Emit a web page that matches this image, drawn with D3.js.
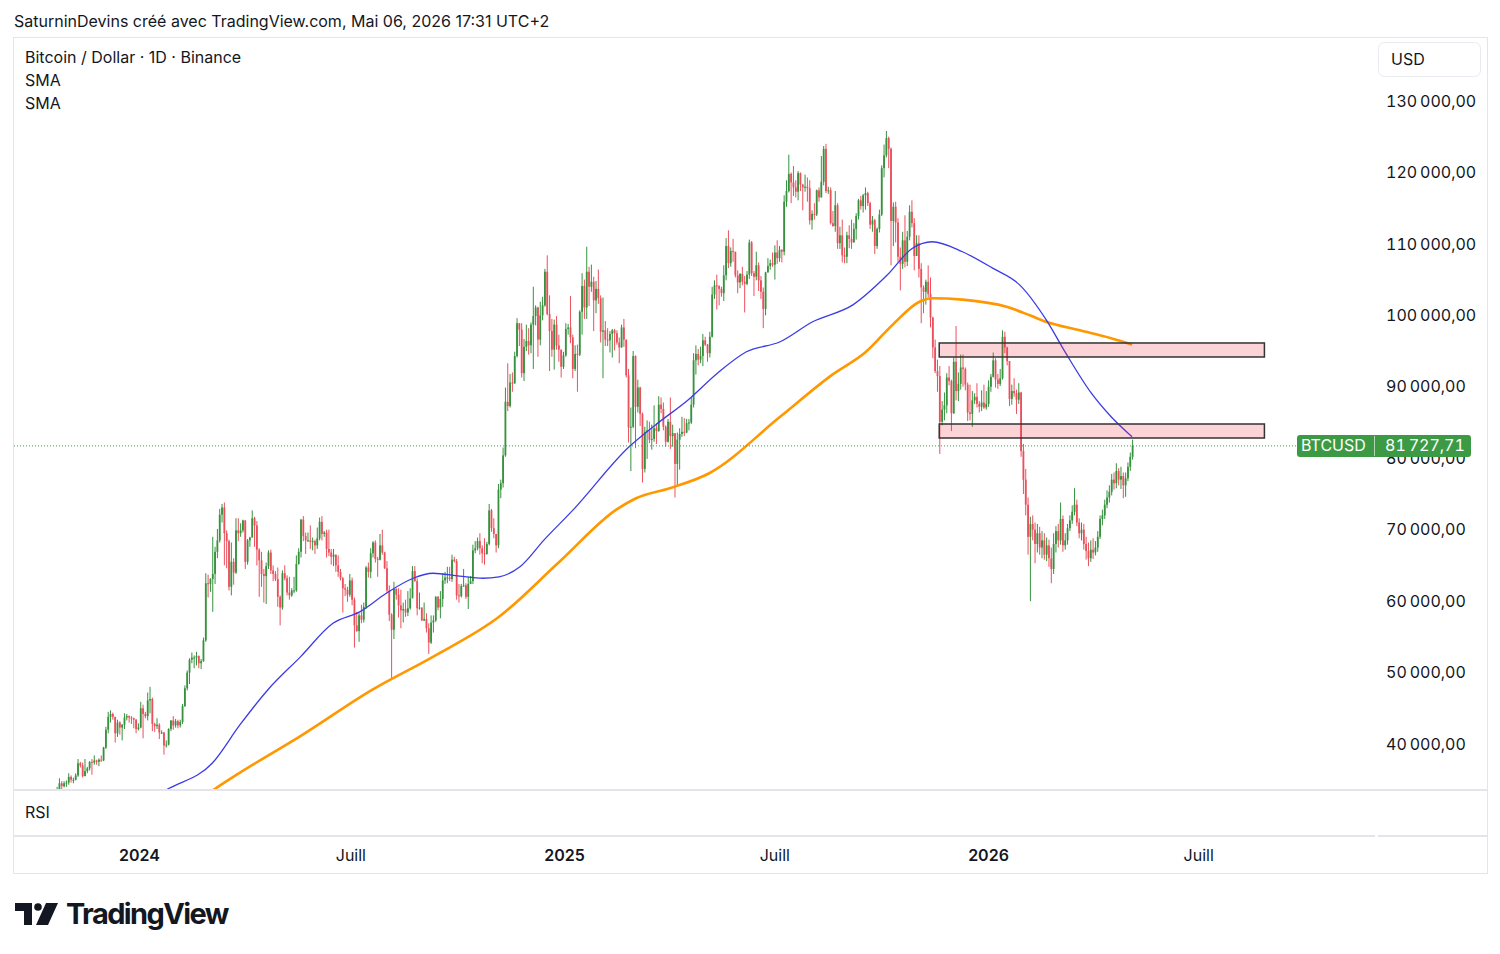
<!DOCTYPE html>
<html>
<head>
<meta charset="utf-8">
<script src="https://cdn.jsdelivr.net/npm/d3@7"></script>
<style>
  html, body { margin: 0; padding: 0; background: #fff; }
  svg { display: block; font-family: Inter, "Noto Sans", sans-serif; }
  .num { font-variant-numeric: tabular-nums; letter-spacing: 0.3px; }
</style>
</head>
<body>
<svg id="chart" width="1500" height="954"></svg>
<script>
// BTC/USD daily chart, grouped here as 2-day candles (prices in thousands of USD)
const startDate = "2023-10-22";
const stepDays = 2;
const firstOpen = 30.2;

const closes = [
  33.0, 34.5, 34.1, 34.5, 34.6, 35.4, 35.0, 35.0, 35.6, 37.3,   // 2023-10-22
  37.0, 35.5, 36.2, 36.6, 37.5, 37.4, 37.7, 37.5, 37.8, 37.7,   // 11-11
  39.5, 42.0, 43.8, 44.2, 43.8, 41.5, 43.0, 42.3, 42.7, 43.7,   // 12-01
  43.9, 43.7, 43.6, 43.4, 42.1, 42.3, 45.0, 44.2, 43.9, 46.1,   // 12-21
  46.3, 42.8, 42.5, 42.7, 41.6, 41.6, 39.8, 39.9, 42.1, 43.3,   // 2024-01-10
  42.6, 43.2, 42.6, 43.1, 45.3, 47.8, 50.0, 51.8, 52.1, 52.1,   // 01-30
  52.3, 51.3, 51.6, 54.5, 62.5, 62.4, 63.1, 63.8, 66.9, 68.5,   // 02-19
  72.1, 73.1, 69.5, 68.4, 62.0, 65.5, 64.0, 69.9, 69.5, 69.9,   // 03-10
  71.3, 65.5, 68.5, 68.9, 71.6, 70.6, 67.2, 65.7, 63.8, 63.5,   // 03-30
  64.9, 66.8, 64.3, 63.8, 63.1, 60.6, 59.1, 63.9, 63.2, 61.2,   // 04-19
  60.8, 61.5, 61.5, 65.2, 66.9, 71.4, 69.1, 68.5, 68.5, 68.3,   // 05-09
  68.4, 67.8, 68.8, 71.1, 69.4, 69.6, 67.3, 66.8, 66.2, 66.5,   // 05-29
  65.0, 64.1, 63.2, 61.8, 61.6, 60.9, 62.9, 60.2, 56.6, 55.8,   // 06-18
  58.0, 57.4, 59.2, 64.7, 64.1, 66.7, 68.2, 65.9, 65.8, 67.8,   // 07-08
  66.8, 64.6, 61.5, 58.1, 56.0, 61.7, 60.9, 59.4, 58.7, 58.9,   // 07-28
  58.4, 59.0, 60.4, 64.2, 62.8, 59.0, 59.1, 57.3, 57.5, 56.2,   // 08-17
  54.2, 57.0, 57.3, 60.6, 59.1, 60.3, 62.9, 63.3, 63.3, 63.1,   // 09-06
  65.8, 65.6, 60.8, 60.7, 62.1, 62.2, 60.6, 62.4, 62.8, 67.1,   // 09-26
  67.4, 68.4, 67.4, 66.7, 66.6, 68.0, 72.7, 70.2, 69.4, 67.8,   // 10-16
  75.6, 76.5, 80.4, 87.9, 87.3, 90.6, 90.5, 94.3, 98.9, 98.0,   // 11-05
  91.9, 95.6, 96.4, 95.8, 98.7, 99.9, 101.1, 96.6, 100.0, 101.4, // 11-25
  106.1, 100.2, 97.8, 95.2, 98.7, 95.8, 95.2, 92.8, 94.4, 98.1,  // 12-15
  98.3, 96.9, 92.5, 94.6, 94.5, 100.5, 104.1, 101.1, 106.1, 104.0, // 2025-01-04
  104.7, 102.1, 103.7, 102.4, 97.7, 97.9, 96.6, 96.5, 97.4, 97.9,  // 01-24
  97.5, 96.2, 95.5, 98.3, 96.6, 91.6, 84.3, 84.4, 94.3, 87.2,   // 02-13
  89.9, 86.2, 78.5, 83.7, 83.9, 82.6, 82.7, 84.2, 83.8, 87.5,   // 03-05
  86.9, 84.4, 82.3, 85.1, 83.1, 83.5, 79.2, 82.6, 83.4, 83.7,   // 03-25
  83.6, 84.9, 85.0, 87.5, 93.7, 94.6, 93.8, 94.3, 96.5, 95.9,   // 04-14
  94.7, 97.0, 102.9, 104.2, 104.1, 103.7, 103.1, 105.6, 109.7, 107.3, // 05-04
  109.0, 108.9, 105.6, 104.6, 105.8, 104.7, 104.4, 105.7, 110.2, 105.9, // 05-24
  105.4, 107.0, 104.9, 103.3, 100.9, 106.0, 106.9, 107.3, 107.1, 108.8, // 06-13
  108.0, 109.2, 108.9, 115.9, 117.4, 119.8, 118.6, 117.9, 117.3, 119.9, // 07-03
  118.3, 117.9, 118.0, 117.8, 113.3, 114.2, 114.1, 117.5, 116.5, 118.7, // 07-23
  123.3, 117.4, 117.5, 112.9, 112.5, 115.4, 110.1, 111.2, 108.4, 108.2, // 08-12
  111.2, 110.7, 110.2, 112.1, 113.9, 116.1, 115.3, 116.8, 117.1, 115.7, // 09-01
  112.7, 113.3, 109.7, 112.1, 114.1, 120.6, 122.4, 124.8, 123.3, 113.2, // 09-21
  115.2, 113.0, 108.2, 107.2, 110.5, 107.5, 111.0, 114.5, 112.9, 108.3, // 10-11
  110.1, 106.5, 103.9, 103.3, 104.7, 103.0, 99.7, 95.5, 92.2, 91.5,    // 10-31
  85.1, 86.8, 87.4, 91.3, 90.8, 86.3, 93.5, 89.4, 90.4, 92.7,   // 11-20
  92.5, 90.3, 86.4, 86.2, 88.1, 88.6, 87.6, 87.2, 87.8, 87.1,   // 12-10
  87.6, 90.0, 91.4, 93.7, 91.0, 90.4, 91.2, 97.0, 95.5, 93.6,   // 12-30
  88.3, 89.4, 89.1, 88.2, 89.2, 81.0, 77.0, 73.5, 69.0, 70.8,   // 2026-01-19
  70.0, 68.0, 69.5, 67.5, 68.5, 66.5, 67.8, 66.0, 64.5, 68.0,   // 02-08
  69.8, 68.5, 71.5, 67.8, 68.5, 70.2, 71.3, 72.5, 73.5, 71.0,   // 02-28
  69.5, 70.0, 68.0, 67.0, 66.0, 67.2, 66.8, 67.5, 69.0, 71.5,   // 03-20
  72.0, 73.5, 74.5, 75.3, 77.0, 76.5, 78.2, 77.0, 77.5, 76.2,   // 04-09
  77.2, 78.8, 80.2, 81.72771                                     // 04-29
];

const highs = [
  34.0, 35.2, 34.8, 34.8, 34.9, 35.9, 35.6, 35.3, 35.9, 37.9,
  37.5, 37.4, 37.9, 36.8, 37.6, 37.9, 38.4, 37.8, 38.0, 38.4,
  39.6, 42.4, 44.5, 44.7, 44.4, 43.8, 43.4, 43.2, 42.8, 44.3,
  44.2, 44.0, 43.9, 43.7, 43.5, 42.9, 45.9, 45.5, 44.5, 47.2,
  48.0, 46.5, 43.0, 43.6, 42.9, 41.9, 41.7, 40.5, 42.2, 43.3,
  43.9, 43.5, 43.4, 43.4, 45.6, 48.2, 50.3, 52.0, 52.8, 52.4,
  52.9, 52.4, 51.9, 54.9, 63.9, 63.7, 63.2, 69.0, 67.6, 70.1,
  72.9, 73.6, 73.8, 69.9, 68.6, 68.2, 66.0, 71.6, 71.6, 70.9,
  71.4, 71.3, 68.7, 69.0, 72.7, 71.8, 71.2, 67.4, 66.9, 64.5,
  65.4, 67.1, 67.2, 65.0, 64.2, 64.7, 60.8, 64.3, 65.0, 63.6,
  63.4, 61.8, 63.4, 66.4, 67.4, 71.5, 71.9, 69.6, 69.6, 70.6,
  68.9, 68.6, 70.3, 71.7, 71.9, 69.8, 70.0, 70.0, 67.3, 67.3,
  66.5, 66.4, 64.5, 63.4, 62.4, 62.0, 63.8, 63.3, 60.5, 58.5,
  58.3, 59.5, 59.8, 64.9, 65.4, 67.4, 68.4, 68.5, 66.2, 69.4,
  70.0, 66.9, 65.6, 62.2, 58.3, 62.7, 61.8, 61.8, 61.6, 59.8,
  60.2, 61.4, 61.8, 64.9, 64.9, 63.2, 61.2, 59.1, 59.8, 58.3,
  56.9, 58.0, 58.0, 60.7, 60.7, 61.4, 63.9, 64.1, 64.8, 64.8,
  66.5, 66.2, 65.9, 62.4, 62.4, 64.5, 62.5, 63.4, 63.5, 67.9,
  68.4, 68.9, 69.5, 67.8, 68.8, 68.3, 73.6, 72.9, 71.6, 69.4,
  76.4, 77.0, 81.5, 89.9, 93.3, 91.8, 92.0, 94.9, 99.6, 98.9,
  98.9, 96.7, 98.7, 98.2, 99.0, 104.0, 101.4, 101.2, 101.9, 102.6,
  106.5, 108.4, 102.8, 99.5, 99.4, 99.9, 97.3, 95.2, 94.9, 98.9,
  98.8, 102.7, 97.3, 95.8, 95.9, 100.7, 105.9, 105.0, 109.6, 106.8,
  107.1, 105.4, 104.8, 106.4, 102.8, 102.5, 99.2, 98.2, 97.8, 98.1,
  98.1, 97.9, 96.9, 98.7, 99.5, 96.6, 92.5, 87.1, 95.0, 94.4,
  91.0, 90.0, 86.4, 84.4, 85.3, 85.1, 84.7, 87.4, 84.9, 88.7,
  88.5, 87.8, 84.6, 85.5, 88.5, 84.7, 83.5, 83.6, 84.2, 85.8,
  85.6, 85.5, 85.5, 88.5, 94.7, 95.8, 95.3, 95.6, 97.4, 97.0,
  96.0, 97.7, 104.0, 104.9, 105.7, 104.2, 104.0, 107.0, 110.8, 111.9,
  109.5, 110.7, 108.9, 106.3, 105.9, 106.8, 105.5, 106.2, 110.6, 110.4,
  106.2, 108.9, 107.4, 105.5, 103.9, 106.1, 108.0, 107.8, 108.8, 109.8,
  110.5, 109.7, 109.2, 116.8, 118.9, 122.5, 120.0, 120.9, 118.9, 120.2,
  120.0, 118.4, 119.7, 119.3, 118.9, 114.7, 115.7, 117.6, 117.9, 122.3,
  123.7, 124.0, 118.0, 117.9, 114.6, 117.4, 115.7, 112.4, 113.4, 109.5,
  111.7, 112.6, 113.4, 112.9, 114.3, 116.3, 116.7, 117.0, 117.9, 117.3,
  115.9, 113.9, 113.5, 112.3, 114.8, 121.0, 123.9, 125.8, 125.0, 123.5,
  115.8, 115.9, 113.6, 109.5, 111.7, 114.0, 111.8, 115.4, 116.1, 113.6,
  111.2, 111.2, 107.3, 104.2, 105.0, 107.0, 105.3, 99.8, 96.6, 93.8,
  92.9, 88.0, 89.2, 91.9, 92.9, 91.0, 94.1, 98.5, 92.0, 94.5,
  94.5, 92.7, 90.6, 90.3, 89.4, 89.1, 90.5, 88.0, 89.5, 90.3,
  89.4, 90.9, 91.8, 94.8, 94.0, 91.8, 92.5, 97.9, 97.7, 95.6,
  93.6, 90.3, 91.2, 89.6, 90.5, 89.3, 82.0, 78.5, 74.5, 71.8,
  72.0, 71.0, 70.8, 70.4, 69.8, 69.5, 68.9, 68.6, 67.5, 69.5,
  70.5, 70.8, 73.8, 72.0, 69.5, 70.8, 72.0, 73.4, 75.8, 74.2,
  71.6, 71.0, 70.8, 69.0, 68.2, 68.5, 68.8, 68.4, 69.8, 72.0,
  72.8, 74.2, 75.5, 76.2, 77.8, 78.0, 79.3, 78.6, 78.8, 78.0,
  78.0, 79.4, 80.8, 82.6
];

const lows = [
  29.9, 32.9, 33.4, 33.9, 34.0, 34.3, 34.6, 34.5, 34.9, 35.4,
  36.7, 35.3, 35.5, 35.9, 36.3, 35.7, 37.1, 37.1, 36.9, 37.5,
  37.6, 39.3, 41.5, 43.0, 43.4, 40.2, 41.0, 41.3, 40.5, 42.1,
  43.3, 43.0, 42.8, 42.2, 41.5, 41.9, 42.2, 40.8, 43.6, 43.3,
  44.3, 41.8, 41.7, 42.1, 40.7, 41.4, 38.5, 39.5, 39.8, 41.8,
  42.0, 42.3, 42.2, 42.3, 42.8, 45.2, 47.5, 48.4, 51.3, 50.6,
  51.0, 50.6, 50.5, 51.5, 54.3, 60.5, 61.3, 58.5, 62.4, 66.0,
  68.2, 71.0, 65.0, 64.6, 61.5, 60.8, 62.3, 63.8, 68.4, 69.0,
  69.6, 64.5, 65.1, 67.6, 68.9, 67.6, 65.0, 60.6, 62.0, 59.8,
  59.6, 64.5, 63.8, 62.8, 62.8, 59.2, 56.6, 58.8, 62.9, 60.8,
  60.2, 60.6, 61.1, 61.3, 65.1, 66.1, 68.4, 66.6, 68.3, 67.3,
  67.1, 66.6, 67.3, 68.5, 68.5, 69.0, 66.1, 66.3, 65.1, 64.9,
  64.1, 63.4, 62.9, 58.4, 60.7, 59.9, 60.6, 59.4, 53.5, 55.7,
  54.3, 56.9, 57.0, 58.9, 63.3, 63.2, 66.1, 65.4, 63.4, 65.7,
  66.5, 64.5, 61.1, 57.2, 49.1, 54.7, 60.2, 57.7, 56.2, 57.0,
  57.8, 57.9, 58.8, 60.4, 62.7, 58.0, 58.8, 57.2, 57.2, 55.6,
  52.6, 54.0, 55.6, 57.1, 58.7, 57.6, 59.2, 62.4, 62.5, 62.8,
  62.7, 65.4, 60.2, 59.8, 60.5, 62.0, 60.3, 58.9, 62.4, 62.4,
  66.7, 67.1, 66.5, 65.3, 65.1, 66.5, 67.8, 69.7, 68.8, 66.8,
  67.4, 74.4, 75.9, 80.2, 86.6, 87.1, 89.3, 90.4, 94.1, 95.7,
  91.3, 90.8, 95.0, 94.5, 94.7, 92.5, 98.6, 94.2, 95.8, 99.3,
  101.2, 100.0, 92.2, 94.2, 92.4, 95.2, 93.5, 91.3, 92.5, 94.2,
  97.3, 96.1, 91.2, 92.2, 89.3, 94.3, 97.3, 99.5, 99.5, 101.3,
  103.3, 97.8, 100.3, 101.6, 96.2, 91.2, 95.7, 95.7, 94.8, 94.1,
  95.1, 95.9, 93.3, 95.5, 95.6, 91.3, 82.2, 78.2, 84.2, 81.4,
  86.4, 84.5, 76.6, 78.0, 79.9, 82.1, 81.2, 82.3, 82.0, 83.7,
  86.3, 83.9, 81.6, 82.2, 81.3, 81.6, 74.5, 76.2, 78.4, 83.0,
  83.1, 83.5, 83.9, 84.8, 87.1, 91.7, 93.0, 93.3, 92.9, 95.7,
  93.5, 94.1, 96.9, 102.3, 100.8, 101.4, 102.6, 102.0, 104.9, 106.6,
  106.8, 107.5, 105.3, 103.1, 103.8, 104.2, 100.4, 104.2, 105.1, 105.5,
  102.7, 104.9, 103.4, 102.3, 98.2, 100.0, 106.0, 106.4, 106.8, 105.0,
  107.2, 107.5, 107.4, 108.4, 115.2, 117.2, 115.7, 116.7, 116.5, 116.1,
  117.4, 114.7, 117.3, 115.9, 112.7, 112.0, 113.4, 113.9, 115.9, 116.5,
  118.2, 117.1, 117.0, 112.7, 112.4, 111.7, 109.3, 109.3, 107.4, 107.3,
  107.3, 109.4, 109.3, 110.2, 110.6, 113.4, 114.8, 114.4, 114.8, 115.3,
  112.1, 111.7, 108.6, 109.3, 111.6, 113.9, 119.3, 122.1, 120.6, 107.0,
  109.7, 110.2, 107.5, 103.5, 106.5, 106.7, 106.9, 110.5, 112.3, 106.3,
  108.3, 105.3, 98.9, 100.3, 101.5, 102.5, 98.3, 94.0, 91.9, 89.3,
  80.6, 84.6, 85.3, 86.3, 90.2, 83.8, 86.2, 88.1, 88.0, 89.6,
  90.0, 89.5, 85.2, 85.3, 84.4, 87.6, 87.1, 86.4, 86.6, 86.9,
  86.8, 87.2, 89.3, 91.3, 89.9, 89.7, 90.1, 91.0, 94.7, 93.0,
  87.3, 87.5, 88.6, 86.2, 87.6, 80.2, 75.0, 72.0, 66.5, 60.0,
  68.5, 65.3, 66.8, 66.5, 66.0, 65.8, 65.6, 64.8, 62.5, 63.8,
  66.8, 67.5, 67.9, 66.9, 67.2, 67.9, 69.8, 70.8, 72.0, 70.5,
  68.8, 68.5, 67.2, 65.8, 64.9, 65.5, 65.9, 66.4, 66.9, 68.7,
  70.6, 71.5, 73.0, 73.8, 74.8, 75.6, 75.8, 76.2, 75.7, 74.4,
  74.6, 76.8, 78.2, 79.8
];

// the two moving averages (date, thousands USD)
const smaBlue = [
  ["2024-01-10", 32.3], ["2024-01-27", 33.8], ["2024-03-04", 37.3], ["2024-03-28", 42.7],
  ["2024-04-21", 47.6], ["2024-05-19", 52.2], ["2024-06-16", 56.9], ["2024-07-09", 58.5],
  ["2024-08-01", 61.1], ["2024-08-24", 63.2], ["2024-09-10", 63.9], ["2024-10-03", 63.5],
  ["2024-10-23", 63.2], ["2024-11-06", 63.4], ["2024-11-24", 64.8], ["2024-12-15", 68.6],
  ["2025-01-09", 72.8], ["2025-02-26", 81.6], ["2025-03-21", 84.7], ["2025-04-18", 88.2],
  ["2025-05-13", 91.9], ["2025-06-07", 94.9], ["2025-07-06", 96.3], ["2025-08-03", 99.1],
  ["2025-09-07", 101.5], ["2025-10-06", 105.6], ["2025-10-28", 109.4], ["2025-11-14", 110.3],
  ["2025-12-10", 108.9], ["2026-01-05", 106.6], ["2026-01-28", 104.3], ["2026-02-20", 99.4],
  ["2026-03-09", 94.7], ["2026-03-31", 89.1], ["2026-04-17", 85.8], ["2026-05-05", 83.0]
];
const smaOrange = [
  ["2024-02-22", 32.2], ["2024-03-08", 33.9], ["2024-03-28", 36.0], ["2024-05-19", 41.1],
  ["2024-07-20", 47.6], ["2024-09-10", 52.2], ["2024-11-06", 57.8], ["2024-12-28", 65.5],
  ["2025-02-15", 72.8], ["2025-03-04", 74.4], ["2025-04-02", 75.8], ["2025-05-06", 77.9],
  ["2025-07-06", 85.8], ["2025-08-20", 91.7], ["2025-09-18", 94.9], ["2025-10-11", 98.7],
  ["2025-11-03", 101.9], ["2025-11-14", 102.4], ["2025-12-10", 102.2], ["2026-01-17", 101.2],
  ["2026-02-06", 100.0], ["2026-02-20", 99.1], ["2026-03-21", 97.9], ["2026-04-17", 96.8],
  ["2026-05-05", 95.9]
];

// drawn rectangles (zones)
const zoneStart = "2025-11-20";
const zoneEnd = "2026-08-27";
const zoneTops = [96.13, 84.79];
const zoneBottoms = [94.17, 82.83];

const lastPrice = 81727.71;
const priceTicks = [40, 50, 60, 70, 80, 90, 100, 110, 120, 130];
const timeTicks = ["2024-01-01", "2024-07-01", "2025-01-01", "2025-07-01", "2026-01-01", "2026-07-01"];
const timeLabels = ["2024", "Juill", "2025", "Juill", "2026", "Juill"];

const ink = "#131722";
const upColor = "#36923e";
const downColor = "#ec4f5c";
const labelGreen = "#3c9a45";
const lineColor = "#e3e5ea";
const fontFamily = "Inter, 'Noto Sans', sans-serif";

const svg = d3.select("#chart");
const parse = s => new Date(s + "T00:00:00Z");

// scales
const x = d3.scaleUtc()
    .domain([parse("2024-01-01"), parse("2026-01-01")])
    .range([139, 988]);
const y = d3.scaleLinear()
    .domain([40, 130])
    .range([744, 101]);

const pane = { left: 14, right: 1375, top: 38, bottom: 789 };

// frame
svg.append("rect")
    .attr("x", 13.5).attr("y", 37.5).attr("width", 1474).attr("height", 836)
    .attr("fill", "#fff").attr("stroke", lineColor);
svg.append("line").attr("x1", 14).attr("x2", 1487).attr("y1", 790).attr("y2", 790)
    .attr("stroke", lineColor).attr("stroke-width", 2);
svg.append("line").attr("x1", 14).attr("x2", 1375).attr("y1", 836).attr("y2", 836)
    .attr("stroke", lineColor).attr("stroke-width", 2);
svg.append("line").attr("x1", 1378).attr("x2", 1487).attr("y1", 836).attr("y2", 836)
    .attr("stroke", lineColor).attr("stroke-width", 2);

svg.append("clipPath").attr("id", "pane-clip")
  .append("rect")
    .attr("x", pane.left).attr("y", pane.top)
    .attr("width", pane.right - pane.left).attr("height", pane.bottom - pane.top);

// candles
const t0 = parse(startDate);
const candles = closes.map((c, i) => {
    const o = i === 0 ? firstOpen : closes[i - 1];
    return {
        t: d3.utcHour.offset(d3.utcDay.offset(t0, i * stepDays), 12),
        o, c,
        h: Math.max(highs[i], o, c),
        l: Math.min(lows[i], o, c)
    };
});

const plot = svg.append("g").attr("clip-path", "url(#pane-clip)");
const color = d => d.c >= d.o ? upColor : downColor;

plot.append("g").selectAll("line")
  .data(candles)
  .join("line")
    .attr("x1", d => x(d.t)).attr("x2", d => x(d.t))
    .attr("y1", d => y(d.h)).attr("y2", d => y(d.l))
    .attr("stroke", color).attr("stroke-width", 1);

plot.append("g").selectAll("rect")
  .data(candles)
  .join("rect")
    .attr("x", d => x(d.t) - 0.9).attr("width", 1.8)
    .attr("y", d => y(Math.max(d.o, d.c)))
    .attr("height", d => Math.max(1, Math.abs(y(d.o) - y(d.c))))
    .attr("fill", color);

// moving averages
const smaLine = d3.line()
    .x(d => x(parse(d[0])))
    .y(d => y(d[1]))
    .curve(d3.curveMonotoneX);

plot.append("path").datum(smaOrange)
    .attr("d", smaLine).attr("fill", "none")
    .attr("stroke", "#ff9800").attr("stroke-width", 2.6).attr("stroke-linejoin", "round");
plot.append("path").datum(smaBlue)
    .attr("d", smaLine).attr("fill", "none")
    .attr("stroke", "#3b3be6").attr("stroke-width", 1.3).attr("stroke-linejoin", "round");

// zones
svg.append("g").selectAll("rect")
  .data(zoneTops)
  .join("rect")
    .attr("x", x(parse(zoneStart)))
    .attr("width", x(parse(zoneEnd)) - x(parse(zoneStart)))
    .attr("y", d => y(d))
    .attr("height", (d, i) => y(zoneBottoms[i]) - y(d))
    .attr("fill", "rgba(242, 54, 69, 0.22)")
    .attr("stroke", "#333").attr("stroke-width", 1.5);

// price scale
const fmtPrice = v => {
    const [int, dec] = v.toFixed(2).split(".");
    return int.replace(/\B(?=(\d{3})+(?!\d))/g, "\u202f") + "," + dec;
};

const yAxis = svg.append("g")
    .attr("transform", "translate(1376,0)")
    .call(d3.axisRight(y).tickValues(priceTicks).tickFormat(d => fmtPrice(d * 1000)).tickSize(0).tickPadding(10));
yAxis.select(".domain").remove();
yAxis.selectAll("text")
    .attr("class", "num")
    .attr("fill", ink).style("font-size", "16px").style("font-family", fontFamily);

// time scale
const xAxis = svg.append("g")
    .attr("transform", "translate(0,855)")
    .call(d3.axisBottom(x).tickValues(timeTicks.map(parse)).tickFormat((d, i) => timeLabels[i]).tickSize(0));
xAxis.select(".domain").remove();
xAxis.selectAll("text")
    .attr("y", 0).attr("dy", "0.35em")
    .attr("fill", ink).style("font-size", "16px").style("font-family", fontFamily)
    .style("font-weight", (d, i) => /^\d+$/.test(timeLabels[i]) ? 600 : 400);

// last price line + label (it sits over the 80 000 tick, as on the original)
const yLast = y(lastPrice / 1000);
svg.append("line")
    .attr("x1", pane.left).attr("x2", 1297).attr("y1", yLast).attr("y2", yLast)
    .attr("stroke", labelGreen).attr("stroke-width", 1).attr("stroke-dasharray", "1,2");
svg.append("rect")
    .attr("x", 1297).attr("y", yLast - 11).attr("width", 174).attr("height", 22)
    .attr("rx", 3).attr("fill", labelGreen);
svg.append("line")
    .attr("x1", 1374.5).attr("x2", 1374.5).attr("y1", yLast - 10).attr("y2", yLast + 10)
    .attr("stroke", "#ffffff").attr("stroke-opacity", 0.6);
svg.append("text")
    .attr("x", 1301).attr("y", yLast).attr("dy", "0.35em")
    .attr("fill", "#fff").style("font-size", "16px").text("BTCUSD");
svg.append("text")
    .attr("class", "num")
    .attr("x", 1385).attr("y", yLast).attr("dy", "0.35em")
    .attr("fill", "#fff").style("font-size", "16px").text(fmtPrice(lastPrice));

// currency box
svg.append("rect")
    .attr("x", 1378.5).attr("y", 42.5).attr("width", 102).attr("height", 34).attr("rx", 6)
    .attr("fill", "#fff").attr("stroke", "#e9ebf0");
svg.append("text")
    .attr("x", 1391).attr("y", 59).attr("dy", "0.35em")
    .attr("fill", ink).style("font-size", "16px").text("USD");

// texts
svg.append("text")
    .attr("x", 14).attr("y", 21).attr("dy", "0.35em")
    .attr("fill", ink).style("font-size", "16px")
    .text("SaturninDevins créé avec TradingView.com, Mai 06, 2026 17:31 UTC+2");

const legend = ["Bitcoin / Dollar · 1D · Binance", "SMA", "SMA"];
svg.append("g").selectAll("text")
  .data(legend)
  .join("text")
    .attr("x", 25).attr("y", (d, i) => 57 + i * 23).attr("dy", "0.35em")
    .attr("fill", ink).style("font-size", "16px")
    .text(d => d);

svg.append("text")
    .attr("x", 25).attr("y", 812).attr("dy", "0.35em")
    .attr("fill", ink).style("font-size", "16px").text("RSI");

// TradingView logo
const logo = svg.append("g").attr("fill", ink);
logo.append("path").attr("d", "M15 903H32V925H24V911H15Z");
logo.append("circle").attr("cx", 38).attr("cy", 907).attr("r", 3.8);
logo.append("path").attr("d", "M46 903H58L48 925H36Z");
logo.append("text")
    .attr("x", 66).attr("y", 924)
    .attr("textLength", 163)
    .style("font-size", "29px").style("font-weight", 700).style("letter-spacing", "-0.5px")
    .text("TradingView");
</script>
</body>
</html>
